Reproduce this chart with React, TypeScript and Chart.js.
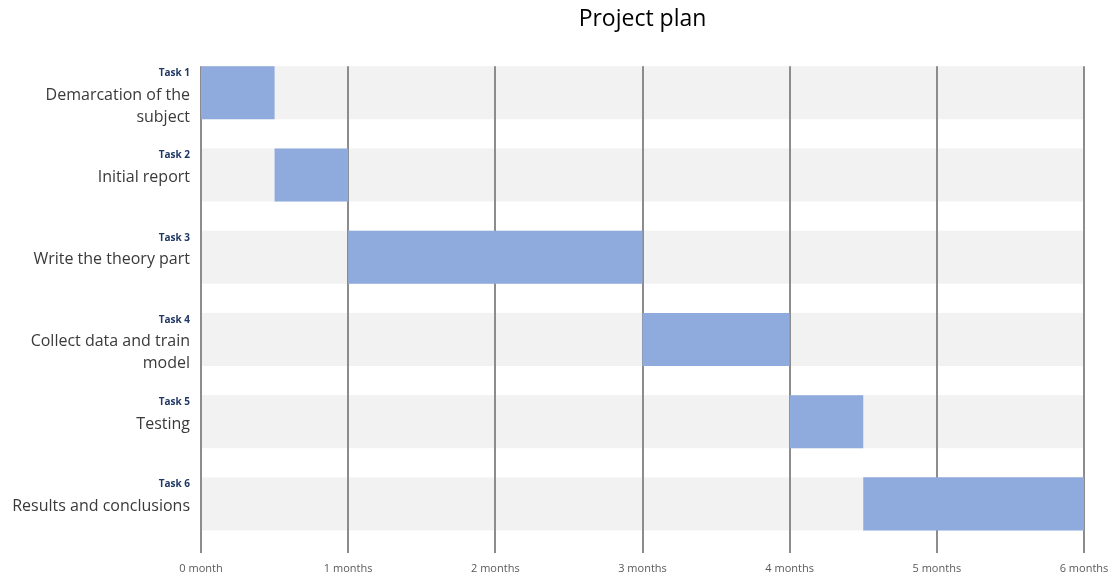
import React, { useEffect, useRef } from "react";
import { Chart, registerables } from "chart.js";

Chart.register(...registerables);

const categories = ["Task 1", "Task 2", "Task 3", "Task 4", "Task 5", "Task 6"];
const taskNames = [
  ["Demarcation of the", "subject"],
  ["Initial report"],
  ["Write the theory part"],
  ["Collect data and train", "model"],
  ["Testing"],
  ["Results and conclusions"],
];
const startMonths = [0, 0.5, 1, 3, 4, 4.5];
const endMonths = [0.5, 1, 3, 4, 4.5, 6];
const tickLabels = ["0 month", "1 months", "2 months", "3 months", "4 months", "5 months", "6 months"];

const BAR_PCT = 0.645;

const ganttPlugin = {
  id: "ganttDecor",
  beforeDatasetsDraw(chart: any) {
    const { ctx, chartArea, scales } = chart;
    const y = scales.y;
    const x = scales.x;
    const step = y.getPixelForValue(1) - y.getPixelForValue(0);
    const bandH = step * BAR_PCT;
    ctx.save();
    ctx.fillStyle = "#f2f2f2";
    categories.forEach((_, i) => {
      const cy = y.getPixelForValue(i);
      ctx.fillRect(chartArea.left, cy - bandH / 2, chartArea.right - chartArea.left, bandH);
    });
    const top = y.getPixelForValue(0) - bandH / 2;
    ctx.strokeStyle = "#8c8c8c";
    ctx.lineWidth = 2;
    tickLabels.forEach((_, v) => {
      const px = Math.round(x.getPixelForValue(v));
      ctx.beginPath();
      ctx.moveTo(px, top);
      ctx.lineTo(px, chartArea.bottom + 8);
      ctx.stroke();
    });
    ctx.restore();
  },
  afterDraw(chart: any) {
    const { ctx, scales } = chart;
    const y = scales.y;
    const step = y.getPixelForValue(1) - y.getPixelForValue(0);
    const bandH = step * BAR_PCT;
    const rightX = 190;
    ctx.save();
    ctx.textAlign = "right";
    ctx.textBaseline = "middle";
    categories.forEach((cat, i) => {
      const top = y.getPixelForValue(i) - bandH / 2;
      ctx.font = "bold 10px 'Open Sans', sans-serif";
      ctx.fillStyle = "#203864";
      ctx.fillText(cat, rightX, top + 7);
      ctx.font = "16px 'Open Sans', sans-serif";
      ctx.fillStyle = "#3a3a3a";
      taskNames[i].forEach((line, j) => {
        ctx.fillText(line, rightX, top + 29 + j * 22);
      });
    });
    ctx.restore();
  },
};

export default function App() {
  const canvasRef = useRef<HTMLCanvasElement | null>(null);

  useEffect(() => {
    if (!canvasRef.current) return;
    const chart = new Chart(canvasRef.current, {
      type: "bar",
      data: {
        labels: categories,
        datasets: [
          {
            data: categories.map((_, i) => [startMonths[i], endMonths[i]]),
            backgroundColor: "#8faadc",
            borderWidth: 0,
            barPercentage: BAR_PCT,
            categoryPercentage: 1,
          },
        ],
      },
      options: {
        indexAxis: "y",
        animation: false,
        responsive: true,
        maintainAspectRatio: false,
        layout: { padding: { top: 0, right: 33, bottom: 6, left: 0 } },
        plugins: {
          legend: { display: false },
          tooltip: { enabled: false },
          title: {
            display: true,
            text: "Project plan",
            fullSize: false,
            color: "#000000",
            font: { family: "'Open Sans', sans-serif", size: 23, weight: "normal" },
            padding: { top: 6, bottom: 18 },
          },
        },
        scales: {
          x: {
            type: "linear",
            min: 0,
            max: 6,
            grid: { display: false, drawTicks: false },
            border: { display: false },
            ticks: {
              stepSize: 1,
              padding: 17,
              maxRotation: 0,
              color: "#595959",
              font: { family: "'Open Sans', sans-serif", size: 11 },
              callback: (v: any) => tickLabels[Number(v)] ?? "",
            },
            afterFit: (s: any) => {
              s.height = 30;
              s.paddingLeft = 0;
              s.paddingRight = 0;
            },
          },
          y: {
            type: "category",
            grid: { display: false },
            border: { display: false },
            ticks: { display: false },
            afterFit: (s: any) => {
              s.width = 201;
            },
          },
        },
      },
      plugins: [ganttPlugin],
    } as any);
    return () => chart.destroy();
  }, []);

  return (
    <div style={{ position: "fixed", left: 0, top: 0, width: 1117, height: 581 }}>
      <canvas ref={canvasRef} />
    </div>
  );
}
